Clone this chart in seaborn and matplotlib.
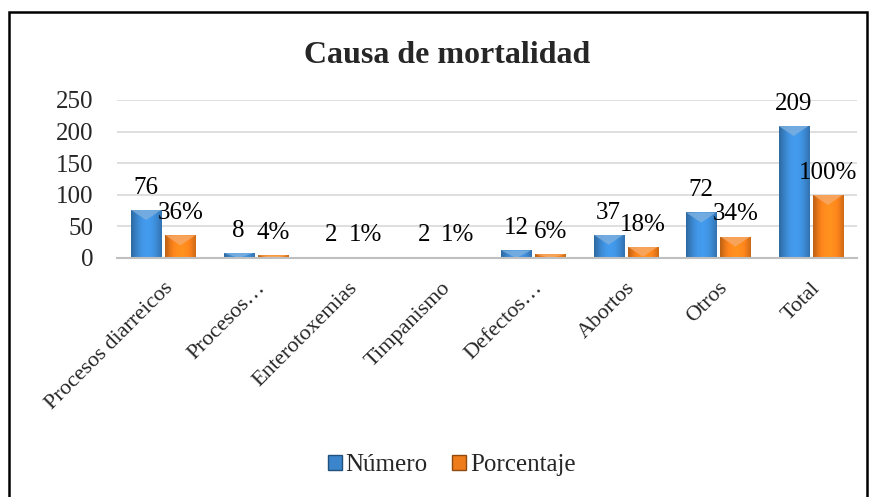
import numpy as np
import pandas as pd
import matplotlib
matplotlib.use("Agg")
import matplotlib.pyplot as plt
import matplotlib.colors as mcolors
import seaborn as sns
from matplotlib.patches import Rectangle, Patch, Polygon

causas = ["Procesos diarreicos", "Procesos…", "Enterotoxemias", "Timpanismo",
          "Defectos…", "Abortos", "Otros", "Total"]
numero = [76, 8, 2, 2, 12, 37, 72, 209]
porcentaje = [36, 4, 1, 1, 6, 18, 34, 100]
series = ["Número", "Porcentaje"]
colores = ["#3a85cc", "#ef7c1a"]

df = pd.DataFrame({
    "causa": causas * 2,
    "serie": [series[0]] * len(causas) + [series[1]] * len(causas),
    "valor": numero + porcentaje,
})

sns.set_style("white")
plt.rcParams["font.family"] = ["Liberation Serif", "DejaVu Serif"]


def sombrear(ax, patch, base):
    # degradado horizontal tipo Excel + bisel claro arriba, recortado a la barra
    x, y = patch.get_x(), patch.get_y()
    w, h = patch.get_width(), patch.get_height()
    rgb = np.array(mcolors.to_rgb(base))
    t = np.linspace(0, 1, 40)
    factor = 0.72 + 0.45 * np.sin(np.pi * (t * 0.85 + 0.05))
    img = np.clip(rgb[None, :] * factor[:, None], 0, 1)[None, :, :]
    im = ax.imshow(img, extent=[x, x + w, y, y + h], aspect="auto",
                   interpolation="bilinear", zorder=patch.get_zorder() + 0.1)
    im.set_clip_path(patch)
    d = min(16, h)
    claro = rgb + (1 - rgb) * 0.35
    tri = Polygon([[x, y + h], [x + w, y + h], [x + w / 2, y + h - d]],
                  closed=True, facecolor=claro, edgecolor="none", alpha=0.8,
                  zorder=patch.get_zorder() + 0.2)
    ax.add_patch(tri)
    tri.set_clip_path(patch)


fig = plt.figure(figsize=(8.72, 4.97), dpi=100)
ax = fig.add_axes([117 / 872, 1 - 258 / 497, 740 / 872, 158 / 497])

sns.barplot(data=df, x="causa", y="valor", hue="serie", palette=colores,
            width=0.74, gap=0.12, ax=ax, legend=False, saturation=1)

for cont, col, vals, fmt in zip(ax.containers, colores, [numero, porcentaje], ["{}", "{}%"]):
    for p in cont.patches:
        p.set_edgecolor(mcolors.to_rgb(col) * np.array(0.6))
        p.set_linewidth(0.6)
        sombrear(ax, p, col)
    ax.bar_label(cont, labels=[fmt.format(v) for v in vals], padding=8,
                 fontsize=18, color="black", zorder=5)

ax.set_xlim(-0.5, len(causas) - 0.5)
ax.set_ylim(0, 250)
ax.set_yticks(range(0, 251, 50))
ax.set_xlabel("")
ax.set_ylabel("")
ax.grid(axis="y", color="#d9d9d9", linewidth=1.2)
ax.set_axisbelow(True)
for s in ["top", "right", "left"]:
    ax.spines[s].set_visible(False)
ax.spines["bottom"].set_color("#bfbfbf")
ax.spines["bottom"].set_linewidth(1.5)

ax.tick_params(axis="y", length=0, pad=17, labelsize=18)
ax.tick_params(axis="x", length=0, pad=15, labelsize=16)
ax.set_xticks(range(len(causas)))
ax.set_xticklabels(causas, rotation=45, ha="right", rotation_mode="anchor")

fig.text(0.513, 1 - 63 / 497, "Causa de mortalidad", ha="center", va="baseline",
         fontsize=23, fontweight="bold")

handles = [Patch(facecolor=c, edgecolor=mcolors.to_rgb(c) * np.array(0.6)) for c in colores]
fig.legend(handles, series, loc="center", bbox_to_anchor=(0.518, 0.064), ncol=2,
           frameon=False, fontsize=18, handlelength=0.55, handleheight=0.55,
           handletextpad=0.15, columnspacing=1.0)

fig.patches.append(Rectangle((9 / 872, -0.02), (867 - 9) / 872, 1.02 - 12 / 497,
                             transform=fig.transFigure, fill=False,
                             edgecolor="black", linewidth=1.8))

fig.savefig("out.png", dpi=100)
